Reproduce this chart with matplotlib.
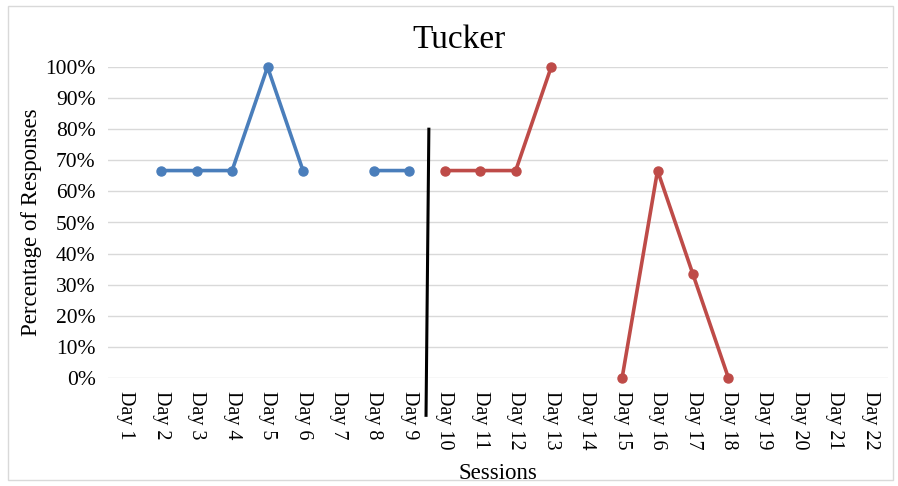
import matplotlib
matplotlib.use("Agg")
import matplotlib.pyplot as plt
import numpy as np
from matplotlib.patches import Rectangle

plt.rcParams['font.family'] = ['Liberation Serif', 'DejaVu Serif']

days = [f"Day {i}" for i in range(1, 23)]
nan = np.nan
baseline = [nan, 0.667, 0.667, 0.667, 1.0, 0.667, nan, 0.667, 0.667] + [nan] * 13
intervention = [nan] * 9 + [0.667, 0.667, 0.667, 1.0, nan, 0.0, 0.667, 0.333, 0.0] + [nan] * 4
yticks = [0, 0.1, 0.2, 0.3, 0.4, 0.5, 0.6, 0.7, 0.8, 0.9, 1.0]
ytick_labels = ["0%", "10%", "20%", "30%", "40%", "50%", "60%", "70%", "80%", "90%", "100%"]
phase_line_x = 8.5
phase_line_y = (0.8, -0.12)

fig = plt.figure(figsize=(8.98, 4.86), dpi=100)
fig.patches.append(Rectangle((8/898, 6/486), 885/898, 474/486, transform=fig.transFigure,
                             fill=False, edgecolor='#d9d9d9', linewidth=1))
ax = fig.add_axes([108/898, 108/486, 780/898, 311/486])
x = np.arange(len(days))
ax.plot(x, baseline, color='#4a7ebb', linewidth=2.6, marker='o', markersize=6.5, clip_on=False, zorder=3)
ax.plot(x, intervention, color='#be4b48', linewidth=2.6, marker='o', markersize=6.5, clip_on=False, zorder=3)
ax.plot([phase_line_x + 0.05, phase_line_x - 0.03], phase_line_y, color='black', linewidth=2.2, clip_on=False, zorder=4)

ax.set_xlim(-0.5, len(days) - 0.5)
ax.set_ylim(0, 1)
ax.set_yticks(yticks)
ax.set_yticklabels(ytick_labels, fontsize=15.5)
ax.set_xticks(x)
ax.set_xticklabels(days, rotation=270, fontsize=14.5, va='top', ha='center')
ax.tick_params(axis='y', length=0, pad=9)
ax.tick_params(axis='x', length=0, pad=9)
ax.grid(axis='y', color='#d9d9d9', linewidth=1)
ax.set_axisbelow(True)
for s in ax.spines.values():
    s.set_visible(False)
fig.text(459/898, 1 - 40/486, "Tucker", fontsize=24, ha='center', va='center')
ax.set_ylabel("Percentage of Responses", fontsize=16.5, labelpad=2)
ax.set_xlabel("Sessions", fontsize=16.5, labelpad=10)
fig.savefig("out.png", dpi=100)
